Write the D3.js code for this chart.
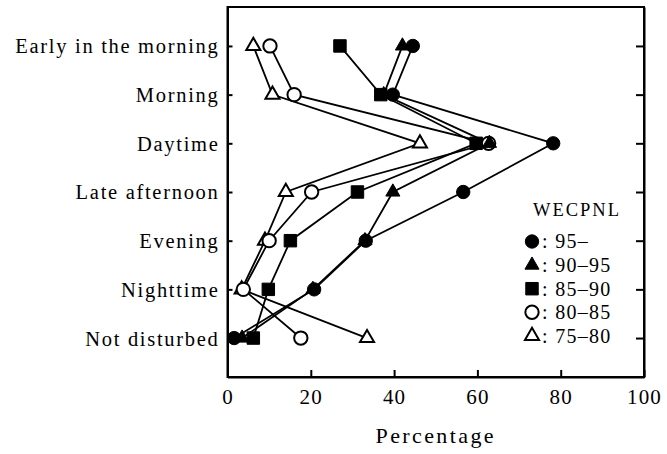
<!DOCTYPE html>
<html>
<head>
<meta charset="utf-8">
<script src="https://cdn.jsdelivr.net/npm/d3@7"></script>
<style>
  html, body { margin: 0; padding: 0; background: #fff; }
  svg { display: block; }
  text { font-family: "Liberation Serif", "Times New Roman", serif; fill: #000; }
</style>
</head>
<body>
<svg id="chart" width="667" height="454"></svg>
<script>
// Time of day when residents reported being disturbed, by WECPNL band (%)
const categories = ["Early in the morning", "Morning", "Daytime", "Late afternoon", "Evening", "Nighttime", "Not disturbed"];
const bandLabels = ["95\u2013", "90\u201395", "85\u201390", "80\u201385", "75\u201380"];
const band95 = [44.5, 39.7, 78.2, 56.6, 33.2, 20.8, 1.6];
const band90 = [42.0, 37.5, 62.9, 39.7, 33.0, 20.5, 3.5];
const band85 = [27.0, 36.8, 59.7, 31.2, 15.1, 9.8, 6.2];
const band80 = [10.2, 16.0, 62.7, 20.2, 10.0, 3.8, 17.6];
const band75 = [6.2, 10.8, 46.2, 14.0, 9.0, 3.4, 33.5];
const xTicks = [0, 20, 40, 60, 80, 100];

const series = [
  { label: bandLabels[4], values: band75, shape: d3.symbolTriangle, filled: false },
  { label: bandLabels[3], values: band80, shape: d3.symbolCircle, filled: false },
  { label: bandLabels[2], values: band85, shape: d3.symbolSquare, filled: true },
  { label: bandLabels[1], values: band90, shape: d3.symbolTriangle, filled: true },
  { label: bandLabels[0], values: band95, shape: d3.symbolCircle, filled: true }
];

const svg = d3.select("#chart");
const plotLeft = 227.5, plotRight = 644, plotTop = 7, plotBottom = 377;

const x = d3.scaleLinear().domain([0, 100]).range([plotLeft, plotRight]);
const y = d3.scalePoint().domain(categories).range([plotTop, plotBottom]).padding(0.8);

function symbolSize(shape) {
  if (shape === d3.symbolCircle) return 140;
  if (shape === d3.symbolSquare) return 155;
  return 86;
}

// Frame
svg.append("rect")
  .attr("x", plotLeft).attr("y", plotTop)
  .attr("width", plotRight - plotLeft).attr("height", plotBottom - plotTop)
  .attr("fill", "none").attr("stroke", "#000").attr("stroke-width", 2);

// Bottom axis
const gx = svg.append("g").attr("transform", `translate(0,${plotBottom})`)
  .call(d3.axisBottom(x).tickValues(xTicks).tickFormat(d3.format("d"))
    .tickSizeInner(-7).tickSizeOuter(0).tickPadding(12));
gx.select(".domain").attr("stroke-width", 2);
gx.selectAll(".tick line").attr("stroke-width", 2);
gx.selectAll(".tick text").attr("font-size", 21).attr("letter-spacing", 1.2).attr("dy", "0.72em");

// Left axis with category labels
const gy = svg.append("g").attr("transform", `translate(${plotLeft},0)`)
  .call(d3.axisLeft(y).tickSizeInner(-5).tickSizeOuter(0).tickPadding(8));
gy.select(".domain").attr("stroke-width", 2);
gy.selectAll(".tick line").attr("stroke-width", 2);
gy.selectAll(".tick text").attr("font-size", 20.5).attr("letter-spacing", 1.7).attr("dy", "0.34em");

// Right axis ticks
const gr = svg.append("g").attr("transform", `translate(${plotRight},0)`)
  .call(d3.axisRight(y).tickSizeInner(-8).tickSizeOuter(0).tickFormat(""));
gr.select(".domain").attr("stroke-width", 2);
gr.selectAll(".tick line").attr("stroke-width", 2);

// Axis title
svg.append("text")
  .attr("x", (plotLeft + plotRight) / 2).attr("y", 443)
  .attr("text-anchor", "middle")
  .attr("font-size", 22).attr("letter-spacing", 2.4)
  .text("Percentage");

// Lines
const line = d3.line().x(d => x(d.v)).y(d => y(d.c));
series.forEach(s => {
  svg.append("path")
    .datum(s.values.map((v, i) => ({ v, c: categories[i] })))
    .attr("d", line)
    .attr("fill", "none").attr("stroke", "#000").attr("stroke-width", 1.8);
});

// Markers
series.forEach(s => {
  svg.append("g").selectAll("path")
    .data(s.values.map((v, i) => ({ v, c: categories[i] })))
    .join("path")
    .attr("transform", d => `translate(${x(d.v)},${y(d.c)})`)
    .attr("d", d3.symbol().type(s.shape).size(symbolSize(s.shape)))
    .attr("fill", s.filled ? "#000" : "#fff")
    .attr("stroke", "#000").attr("stroke-width", s.filled ? 1 : 2);
});

// Legend
const legend = svg.append("g");
legend.append("text")
  .attr("x", 577).attr("y", 216)
  .attr("text-anchor", "middle")
  .attr("font-size", 18.5).attr("letter-spacing", 2)
  .text("WECPNL");
const legendOrder = series.slice().reverse();
legendOrder.forEach((s, i) => {
  const ly = 241.5 + i * 23.6;
  legend.append("path")
    .attr("transform", `translate(532,${ly})`)
    .attr("d", d3.symbol().type(s.shape).size(symbolSize(s.shape)))
    .attr("fill", s.filled ? "#000" : "#fff")
    .attr("stroke", "#000").attr("stroke-width", s.filled ? 1 : 2);
  legend.append("text")
    .attr("x", 542).attr("y", ly).attr("dy", "0.34em")
    .attr("font-size", 20).attr("letter-spacing", 1.3)
    .text(": " + s.label);
});
</script>
</body>
</html>
